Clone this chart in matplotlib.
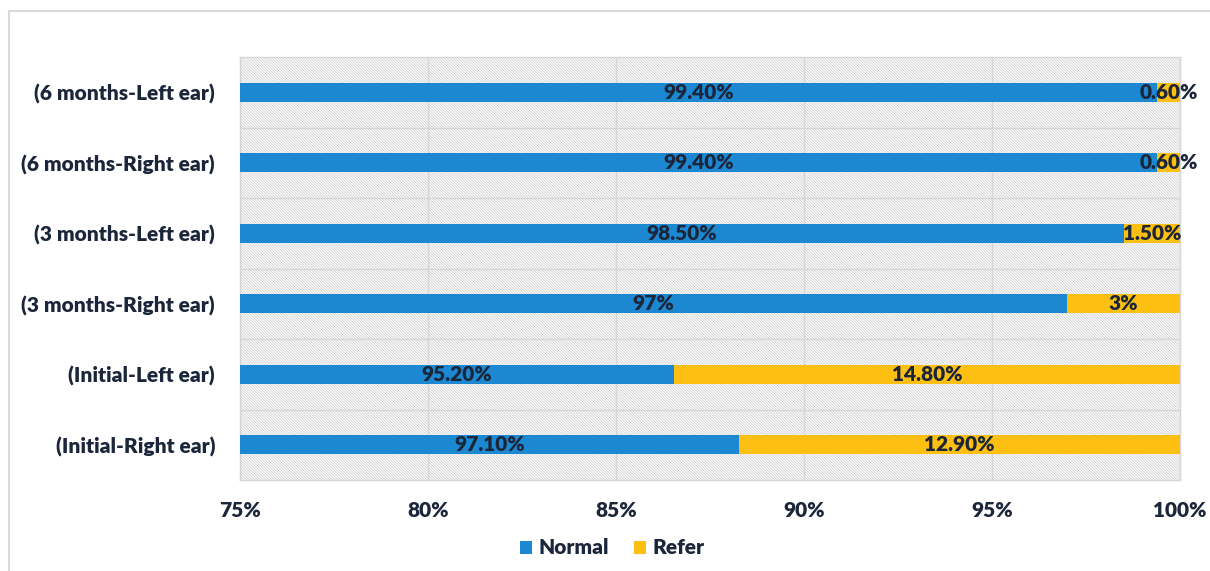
import matplotlib
matplotlib.use("Agg")
import matplotlib.pyplot as plt
from matplotlib.lines import Line2D
from matplotlib.patches import Patch

categories = ["(Initial-Right ear)", "(Initial-Left ear)", "(3 months-Right ear)",
              "(3 months-Left ear)", "(6 months-Right ear)", "(6 months-Left ear)"]
normal = [97.1, 95.2, 97.0, 98.5, 99.4, 99.4]
refer = [12.9, 14.8, 3.0, 1.5, 0.6, 0.6]
normal_labels = ["97.10%", "95.20%", "97%", "98.50%", "99.40%", "99.40%"]
refer_labels = ["12.90%", "14.80%", "3%", "1.50%", "0.60%", "0.60%"]
xticks = [75, 80, 85, 90, 95, 100]
xtick_labels = ["75%", "80%", "85%", "90%", "95%", "100%"]

BLUE = "#1c88d2"
YELLOW = "#fcbf12"
TXT = "#1b263a"
GRID = "#d6d6d6"
FONT = ["Lato", "DejaVu Sans"]
WEIGHT = "heavy"

plt.rcParams["hatch.linewidth"] = 0.6
plt.rcParams["hatch.color"] = "#cfcfcf"

fig = plt.figure(figsize=(12.1, 5.71), dpi=100)
ax = fig.add_axes([240/1210, 1-480/571, 940/1210, (480-57)/571])

# hatched background
ax.set_facecolor("white")
ax.add_patch(plt.Rectangle((0, 0), 1, 1, transform=ax.transAxes, facecolor="white",
                           edgecolor="#cfcfcf", hatch="\\" * 12, linewidth=0, zorder=0))

total = [n + r for n, r in zip(normal, refer)]
norm_share = [n / t * 100 for n, t in zip(normal, total)]
ref_share = [r / t * 100 for r, t in zip(refer, total)]
y = list(range(len(categories)))
h = 0.27
ax.barh(y, norm_share, height=h, color=BLUE, zorder=3)
ax.barh(y, ref_share, left=norm_share, height=h, color=YELLOW, zorder=3)

xmin, xmax = 75, 100
for i in y:
    c1 = (xmin + norm_share[i]) / 2
    ax.text(c1, i, normal_labels[i], ha="center", va="center", color=TXT,
            fontsize=15, fontweight=WEIGHT, family=FONT, zorder=4)
    c2 = (norm_share[i] + 100) / 2
    ax.text(c2, i, refer_labels[i], ha="center", va="center", color=TXT,
            fontsize=15, fontweight=WEIGHT, family=FONT, zorder=4)

ax.set_xlim(xmin, xmax)
ax.set_ylim(-0.5, len(categories) - 0.5)
ax.set_xticks(xticks)
ax.set_xticklabels(xtick_labels)
ax.set_yticks(y)
ax.set_yticklabels(categories)
ax.set_yticks([v - 0.5 for v in range(1, len(categories))], minor=True)
ax.grid(axis="x", which="major", color=GRID, linewidth=1, zorder=1)
ax.grid(axis="y", which="minor", color=GRID, linewidth=1, zorder=1)
ax.set_axisbelow(True)
ax.tick_params(axis="both", which="both", length=0)
ax.tick_params(axis="x", pad=15)
ax.tick_params(axis="y", pad=18)
for lab in ax.get_xticklabels() + ax.get_yticklabels():
    lab.set_fontfamily(FONT)
    lab.set_fontweight(WEIGHT)
    lab.set_fontsize(15)
    lab.set_color(TXT)
for s in ax.spines.values():
    s.set_color(GRID)
    s.set_linewidth(1)

handles = [Patch(facecolor=BLUE, label="Normal"), Patch(facecolor=YELLOW, label="Refer")]
leg = fig.legend(handles=handles, loc="center", bbox_to_anchor=(612/1210, 1-548/571),
                 ncol=2, frameon=False, handlelength=0.6, handleheight=0.6,
                 handletextpad=0.3, columnspacing=1.2,
                 prop={"family": FONT, "weight": WEIGHT, "size": 15})
for t in leg.get_texts():
    t.set_color(TXT)

# outer chart frame (left and top edges)
fig.add_artist(Line2D([9/1210, 9/1210], [0, 1-11/571], transform=fig.transFigure,
                      color="#d9d9d9", linewidth=1.5))
fig.add_artist(Line2D([9/1210, 1], [1-11/571, 1-11/571], transform=fig.transFigure,
                      color="#d9d9d9", linewidth=1.5))

fig.savefig("out.png", dpi=100)
